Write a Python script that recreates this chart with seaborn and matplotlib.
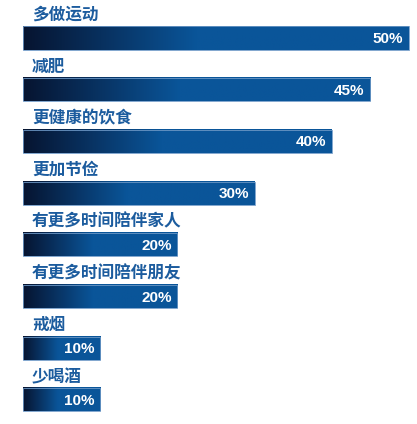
import matplotlib.pyplot as plt
import seaborn as sns
from matplotlib.colors import LinearSegmentedColormap
from numpy import linspace
from pandas import DataFrame

# survey answers, top to bottom
labels = ['多做运动', '减肥', '更健康的饮食', '更加节俭',
          '有更多时间陪伴家人', '有更多时间陪伴朋友', '戒烟', '少喝酒']
values = [50, 45, 40, 30, 20, 20, 10, 10]

sns.set_style('white')
plt.rcParams['font.family'] = ['Noto Sans CJK SC', 'DejaVu Sans']

df = DataFrame({'label': labels, 'value': values})

fig = plt.figure(figsize=(4.17, 4.24), dpi=100)
ax = fig.add_axes([0, 0, 1, 1])

sns.barplot(data=df, x='value', y='label', orient='h', width=0.445,
            color='#0a5599', ax=ax)

# dark navy on the left fading into blue
grad = LinearSegmentedColormap.from_list(
    'bar', [(0, '#061430'), (0.2, '#08305e'), (0.45, '#0a5599'), (1, '#0a5599')])

for patch in ax.patches:
    x0, y0 = patch.get_x(), patch.get_y()
    w, h = patch.get_width(), patch.get_height()
    ax.imshow(linspace(0, 1, 256).reshape(1, -1), cmap=grad, aspect='auto',
              extent=(x0, x0 + w, y0 + h, y0), zorder=1)
    patch.set_facecolor('none')
    patch.set_edgecolor('#6d98c6')
    patch.set_linewidth(0.6)
    patch.set_zorder(2)

for i, (lab, val) in enumerate(zip(labels, values)):
    ax.text(1.15, i - 0.27, lab, ha='left', va='bottom', fontsize=12,
            fontweight='bold', color='#1c5c9e')
    ax.text(val - 0.75, i + 0.02, f'{val}%', ha='right', va='center',
            fontsize=11, fontweight='bold', color='white',
            family=['Liberation Sans', 'DejaVu Sans'], zorder=3)

ax.set_xlim(-2.98, 51.04)
ax.set_ylim(7.466, -0.735)
ax.set_axis_off()

fig.savefig('out.png', dpi=100)
